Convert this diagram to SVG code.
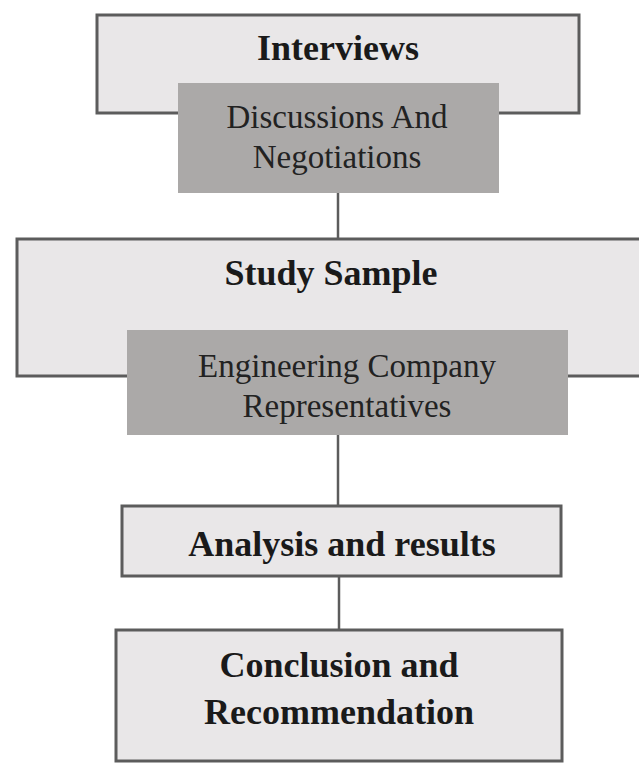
<svg xmlns="http://www.w3.org/2000/svg" width="639" height="782" viewBox="0 0 639 782">
<style>
.box{fill:#e9e7e8;stroke:#5c5c5c;stroke-width:3}
.sub{fill:#aba9a8;stroke:none}
.conn{stroke:#5c5c5c;stroke-width:2.5;fill:none}
.b{font-family:"Liberation Serif","Times New Roman",serif;font-weight:bold;font-size:36px;fill:#1a1a1a;text-anchor:middle}
.r{font-family:"Liberation Serif","Times New Roman",serif;font-size:33px;fill:#222;text-anchor:middle}
</style>
<rect width="639" height="782" fill="#ffffff"/>
<g id="connectors">
<line class="conn" x1="338" y1="193" x2="338" y2="239"/>
<line class="conn" x1="338" y1="435" x2="338" y2="506"/>
<line class="conn" x1="339" y1="576" x2="339" y2="630"/>
</g>
<g id="interviews">
<rect class="box" x="97" y="15" width="482" height="98"/>
<text class="b" x="338" y="60">Interviews</text>
</g>
<g id="discussions">
<rect class="sub" x="178" y="83" width="321" height="110"/>
<text class="r" x="337" y="128">Discussions And</text>
<text class="r" x="337" y="168">Negotiations</text>
</g>
<g id="study-sample">
<rect class="box" x="17" y="239" width="660" height="137"/>
<text class="b" x="331" y="285">Study Sample</text>
</g>
<g id="engineering">
<rect class="sub" x="127" y="330" width="441" height="105"/>
<text class="r" x="347" y="377">Engineering Company</text>
<text class="r" x="347" y="417">Representatives</text>
</g>
<g id="analysis">
<rect class="box" x="122" y="506" width="439" height="70"/>
<text class="b" x="342" y="556">Analysis and results</text>
</g>
<g id="conclusion">
<rect class="box" x="116" y="630" width="446" height="131"/>
<text class="b" x="339" y="677">Conclusion and</text>
<text class="b" x="339" y="724">Recommendation</text>
</g>
</svg>
